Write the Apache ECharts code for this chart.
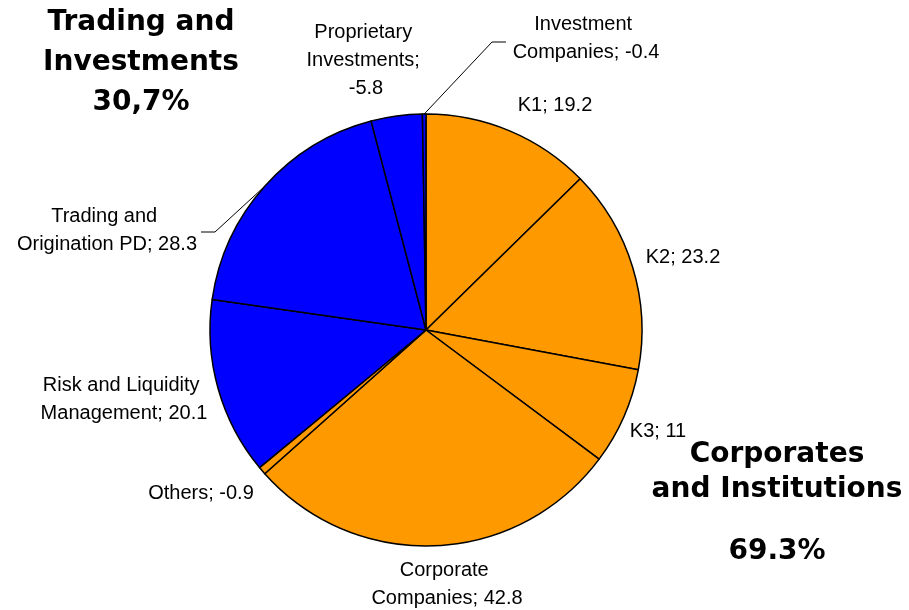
<!DOCTYPE html>
<html>
<head>
<meta charset="utf-8">
<script src="https://cdn.jsdelivr.net/npm/echarts@6/dist/echarts.min.js"></script>
<style>
  html, body { margin: 0; padding: 0; background: #ffffff; }
  #chart { width: 909px; height: 610px; }
</style>
</head>
<body>
<div id="chart"></div>
<script>
// Segments in drawing order, clockwise from 12 o'clock
const categories = [
  'K1', 'K2', 'K3', 'Corporate Companies', 'Others',
  'Risk and Liquidity Management', 'Trading and Origination PD',
  'Proprietary Investments', 'Investment Companies'
];
const values = [19.2, 23.2, 11, 42.8, -0.9, 20.1, 28.3, -5.8, -0.4];
const divisions = ['CI', 'CI', 'CI', 'CI', 'CI', 'TI', 'TI', 'TI', 'TI'];

// Division headings and the decimal mark each one is printed with
const divisionHeadings = { TI: ['Trading and', 'Investments'], CI: ['Corporates', 'and Institutions'] };
const divisionDecimal = { TI: ',', CI: '.' };

// ---- styling / layout ----
const divisionColor = { CI: '#FF9900', TI: '#0000FF' };
const pieCenter = [426, 330];
const pieRadius = 216;
// label anchor (centre of the text block) for each segment
const labelSpots = [
  [555, 105], [683, 257], [658, 431], [447, 584], [201, 493],
  [124, 399], [107, 230], [366, 60], [586, 38]
];
// wrap width per label (0 = single line)
const labelWrap = [0, 0, 0, 160, 0, 172, 186, 125, 150];
// segments whose label is tied back with a leader: -1 label left of the pie, +1 right
const leaders = { 6: -1, 8: 1 };

const total = values.reduce((a, b) => a + b, 0);
function divisionShare(key) {
  const s = values.filter((v, i) => divisions[i] === key).reduce((a, b) => a + b, 0);
  return (s / total * 100).toFixed(1).replace('.', divisionDecimal[key]) + '%';
}

const labelFont = { fontFamily: '"Liberation Sans", Arial, sans-serif', fontSize: 20, color: '#000', lineHeight: 28 };
const headFont = '"DejaVu Sans", Verdana, sans-serif';

const pieData = categories.map((name, i) => {
  const item = {
    name: name,
    value: Math.abs(values[i]),
    signed: values[i],
    itemStyle: { color: divisionColor[divisions[i]] },
    labelLine: { show: leaders[i] !== undefined }
  };
  if (labelWrap[i]) item.label = { width: labelWrap[i], overflow: 'break' };
  return item;
});

const chart = echarts.init(document.getElementById('chart'), null, { renderer: 'canvas' });

chart.setOption({
  animation: false,
  backgroundColor: '#ffffff',
  series: [{
    type: 'pie',
    center: pieCenter,
    radius: pieRadius,
    startAngle: 90,
    clockwise: true,
    avoidLabelOverlap: false,
    minAngle: 0,
    itemStyle: { borderColor: '#000', borderWidth: 1.5 },
    emphasis: { disabled: true },
    label: Object.assign({
      show: true,
      position: 'outside',
      align: 'center',
      formatter: p => p.name + '; ' + p.data.signed
    }, labelFont),
    labelLine: { show: false, lineStyle: { color: '#000', width: 1 } },
    labelLayout: function (p) {
      const i = p.dataIndex;
      const x = labelSpots[i][0], y = labelSpots[i][1];
      const out = { x: x, y: y, align: 'center', verticalAlign: 'middle' };
      const dir = leaders[i];
      if (dir !== undefined && p.labelLinePoints) {
        const half = p.labelRect.width / 2;
        const endX = dir < 0 ? x + half + 1 : x - half - 5;
        const elbowX = endX - dir * 14;
        const ly = dir < 0 ? y + 2 : y + 4;
        out.labelLinePoints = [p.labelLinePoints[0], [elbowX, ly], [endX, ly]];
      }
      return out;
    },
    data: pieData
  }],
  graphic: [
    {
      type: 'text',
      x: 141, y: 63,
      style: {
        text: divisionHeadings.TI.concat(divisionShare('TI')).join('\n'),
        align: 'center', verticalAlign: 'middle',
        fontFamily: headFont, fontWeight: 'bold', fontSize: 28, lineHeight: 40, fill: '#000'
      }
    },
    {
      type: 'text',
      x: 777, y: 472,
      style: {
        text: divisionHeadings.CI.join('\n'),
        align: 'center', verticalAlign: 'middle',
        fontFamily: headFont, fontWeight: 'bold', fontSize: 28, lineHeight: 35, fill: '#000'
      }
    },
    {
      type: 'text',
      x: 777, y: 552,
      style: {
        text: divisionShare('CI'),
        align: 'center', verticalAlign: 'middle',
        fontFamily: headFont, fontWeight: 'bold', fontSize: 28, fill: '#000'
      }
    }
  ]
});
</script>
</body>
</html>
